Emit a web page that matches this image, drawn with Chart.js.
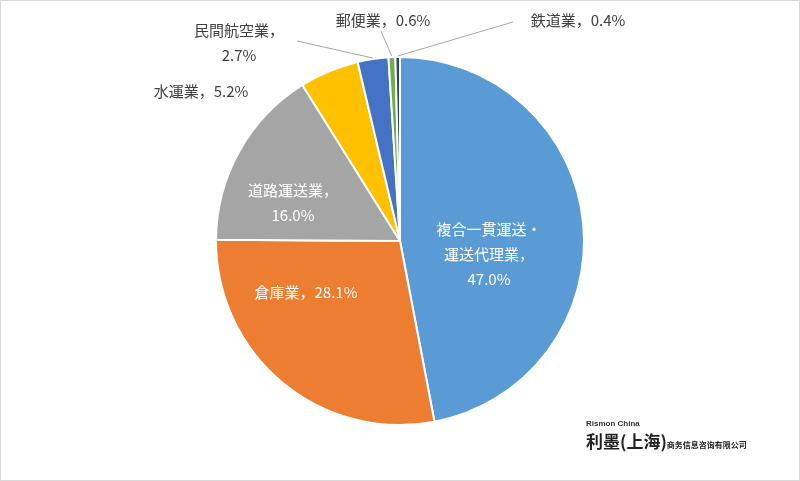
<!DOCTYPE html>
<html><head><meta charset="utf-8">
<script src="https://cdn.jsdelivr.net/npm/chart.js@4/dist/chart.umd.min.js"></script>
<style>
html,body{margin:0;padding:0;background:#fff;}
#wrap{position:relative;width:798px;height:479px;border:1px solid #d9d9d9;}
#logo{position:absolute;left:585px;top:418px;font-family:"Noto Sans CJK SC";color:#333;}
</style></head><body>
<div id="wrap"><canvas id="c" width="798" height="479"></canvas>
<div id="logo"><div style="font-size:8px;font-family:Arial;font-weight:bold">Rismon China</div><div style="font-size:17px;font-weight:bold;color:#222">利墨(上海)<span style="font-size:8px">商务信息咨询有限公司</span></div></div>
</div>
<script>
const categories=["複合一貫運送・運送代理業","倉庫業","道路運送業","水運業","民間航空業","郵便業","鉄道業"];
const values=[47.0,28.1,16.0,5.2,2.7,0.6,0.4];
const colors=["#5B9BD5","#ED7D31","#A5A5A5","#FFC000","#4472C4","#70AD47","#264478"];
const labelLines=[["複合一貫運送・","運送代理業，","47.0%"],["倉庫業，28.1%"],["道路運送業，","16.0%"],["水運業，5.2%"],["民間航空業，","2.7%"],["郵便業，0.6%"],["鉄道業，0.4%"]];
const labelPos=[[488,253],[305,291],[292,202],[200,90],[238,42],[382,19],[577,19]];
const leaderFrom=[null,null,null,null,[296,40],[380,30],[512,21]];
const inside=[true,true,true,false,false,false,false];
const labelPlugin={id:'lbl',afterDatasetsDraw(chart){
  const ctx=chart.ctx;const arcs=chart.getDatasetMeta(0).data;
  ctx.save();ctx.font='15px "Noto Sans CJK JP"';ctx.textAlign='center';ctx.textBaseline='middle';
  arcs.forEach((a,i)=>{
    const lines=labelLines[i];const [x,y]=labelPos[i];
    if(leaderFrom[i]){
      const mid=(a.startAngle+a.endAngle)/2;
      ctx.strokeStyle='#a6a6a6';ctx.lineWidth=1;ctx.beginPath();
      ctx.moveTo(leaderFrom[i][0],leaderFrom[i][1]);
      ctx.lineTo(a.x+Math.cos(mid)*(a.outerRadius+1),a.y+Math.sin(mid)*(a.outerRadius+1));ctx.stroke();
    }
    ctx.fillStyle=inside[i]?'#ffffff':'#404040';
    lines.forEach((t,k)=>ctx.fillText(t,x,y+(k-(lines.length-1)/2)*25));
  });
  ctx.restore();}};
new Chart(document.getElementById('c'),{type:'pie',
 data:{labels:categories,datasets:[{data:values,backgroundColor:colors,borderColor:'#fff',borderWidth:2}]},
 options:{responsive:false,animation:false,layout:{padding:{top:55,bottom:54}},
  plugins:{legend:{display:false},tooltip:{enabled:false}}},
 plugins:[labelPlugin]});
</script></body></html>
